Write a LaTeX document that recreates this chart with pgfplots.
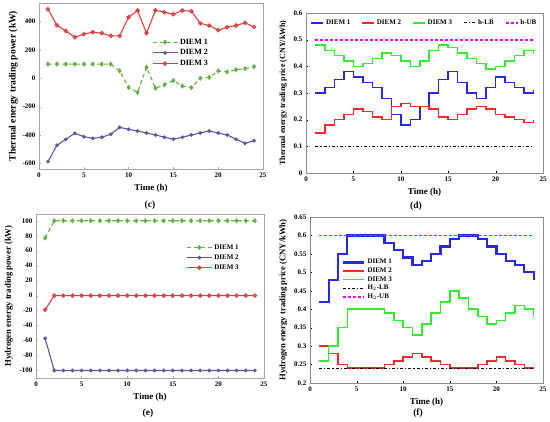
\documentclass[border=0pt]{standalone}
\usepackage{fontspec}
\setmainfont{Liberation Serif}
\usepackage{pgfplots}
\pgfplotsset{compat=1.18}
\definecolor{cgreen}{RGB}{100,175,70}
\definecolor{cpurple}{RGB}{95,85,165}
\definecolor{cred}{RGB}{215,65,65}
\definecolor{mblue}{RGB}{40,40,230}
\definecolor{mred}{RGB}{250,40,40}
\definecolor{mgreen}{RGB}{50,235,50}
\definecolor{mmag}{RGB}{255,0,230}
\pgfplotsset{
  base/.style={scale only axis, anchor=south west, xmin=0, xmax=25, xtick={0,5,...,25},
    axis line style={gray!70}, tick align=inside, xtick pos=left, ytick pos=left,
    major tick length=2pt, tick style={gray!70},
    /pgf/number format/assume math mode=true,
    tick label style={font=\bfseries\fontsize{7}{8}\selectfont},
    label style={font=\bfseries\fontsize{9}{10}\selectfont},
    legend style={draw=none, fill=none, font=\bfseries\fontsize{7}{8}\selectfont},
    legend cell align=left,
  },
  mleg/.style={legend image code/.code={\draw[mark repeat=2,mark phase=2,##1] plot coordinates {(0pt,0pt) (12.5pt,0pt) (25pt,0pt)};}},
  m1/.style={cgreen, line width=1.1pt, dash pattern=on 4pt off 3pt, mark=diamond*, mark size=1.8pt, mark options={solid}},
  m2/.style={cpurple, line width=1.1pt, mark=*, mark size=1.3pt},
  m3/.style={cred, line width=1.1pt, mark=o, mark size=1.7pt},
  ub/.style={draw=mmag, color=mmag, line width=1.7pt, line cap=butt, dash pattern=on 3pt off 2pt},
}
\begin{document}
\begin{tikzpicture}[x=1pt,y=1pt]
\path[use as bounding box] (0,0) rectangle (550,422);
% (c)
\begin{axis}[base, mleg, at={(39pt,253pt)}, width=224pt, height=166pt,
  ymin=-640, ymax=531, ytick={-600,-400,...,400},
  xlabel={Time (h)}, ylabel={Thermal energy trading power (kW)},
  ylabel style={yshift=-2pt, font=\bfseries\fontsize{9.6}{10}\selectfont},
  legend style={at={(0.49,0.81)}, anchor=north west, font=\bfseries\fontsize{8}{9}\selectfont}]
\addplot[m1] coordinates {(1,100)(2,100)(3,100)(4,100)(5,100)(6,100)(7,100)(8,100)(9,52)(10,-64)(11,-100)(12,78)(13,-70)(14,-46)(15,-16)(16,-55)(17,-66)(18,0)(19,6)(20,52)(21,45)(22,61)(23,68)(24,82)};
\addlegendentry{DIEM 1}
\addplot[m2] coordinates {(1,-588)(2,-473)(3,-430)(4,-388)(5,-412)(6,-424)(7,-416)(8,-395)(9,-346)(10,-360)(11,-372)(12,-386)(13,-400)(14,-416)(15,-430)(16,-416)(17,-400)(18,-386)(19,-372)(20,-386)(21,-400)(22,-430)(23,-459)(24,-440)};
\addlegendentry{DIEM 2}
\addplot[m3] coordinates {(1,487)(2,374)(3,334)(4,289)(5,311)(6,325)(7,318)(8,299)(9,299)(10,431)(11,478)(12,318)(13,480)(14,466)(15,452)(16,478)(17,473)(18,388)(19,372)(20,339)(21,360)(22,372)(23,391)(24,362)};
\addlegendentry{DIEM 3}
\end{axis}
% (d)
\begin{axis}[base, clip=false, at={(306pt,249pt)}, width=237pt, height=160pt,
  ymin=0, ymax=0.6, ytick={0,0.1,0.2,0.3,0.4,0.5,0.6},
  axis line style={gray!90}, tick style={black},
  xlabel={Time (h)}, ylabel={Thermal energy trading price (CNY/kWh)},
  ylabel style={font=\bfseries\fontsize{8}{9}\selectfont},
  legend columns=5,
  legend style={at={(0.5,0.985)}, anchor=north, font=\bfseries\fontsize{7}{8}\selectfont,
    /tikz/every even column/.append style={column sep=9pt}},
  legend image code/.code={\draw[#1] (0pt,0pt) -- (12pt,0pt);}]
\addplot[ub, forget plot] coordinates {(1,0.5)(24,0.5)};
\addplot[const plot, mblue, line width=1.5pt] coordinates {(1,0.30)(2,0.32)(3,0.35)(4,0.38)(5,0.36)(6,0.34)(7,0.32)(8,0.28)(9,0.22)(10,0.18)(11,0.20)(12,0.25)(13,0.30)(14,0.35)(15,0.38)(16,0.34)(17,0.30)(18,0.28)(19,0.32)(20,0.36)(21,0.34)(22,0.32)(23,0.30)(24,0.31)};
\addlegendentry{DIEM 1}
\addplot[const plot, mred, line width=1.5pt] coordinates {(1,0.15)(2,0.18)(3,0.20)(4,0.22)(5,0.24)(6,0.23)(7,0.21)(8,0.20)(9,0.25)(10,0.26)(11,0.25)(12,0.25)(13,0.24)(14,0.21)(15,0.20)(16,0.22)(17,0.24)(18,0.25)(19,0.24)(20,0.22)(21,0.21)(22,0.20)(23,0.19)(24,0.20)};
\addlegendentry{DIEM 2}
\addplot[const plot, mgreen, line width=1.5pt] coordinates {(1,0.48)(2,0.46)(3,0.44)(4,0.42)(5,0.40)(6,0.41)(7,0.43)(8,0.45)(9,0.44)(10,0.42)(11,0.40)(12,0.42)(13,0.46)(14,0.48)(15,0.47)(16,0.45)(17,0.43)(18,0.41)(19,0.39)(20,0.40)(21,0.42)(22,0.44)(23,0.46)(24,0.45)};
\addlegendentry{DIEM 3}
\addplot[black, line width=1.1pt, dash dot] coordinates {(1,0.1)(24,0.1)};
\addlegendentry{h-LB}
\addlegendimage{ub}
\addlegendentry{h-UB}
\end{axis}
% (e)
\begin{axis}[base, mleg, at={(36pt,44pt)}, width=228pt, height=164pt,
  ymin=-110, ymax=109, ytick={-100,-80,...,100},
  xlabel={Time (h)}, ylabel={Hydrogen energy trading power (kW)},
  ylabel style={font=\bfseries\fontsize{8.7}{9.5}\selectfont},
  legend style={at={(0.645,0.84)}, anchor=north west, font=\bfseries\fontsize{7}{8}\selectfont}]
\addplot[m1] coordinates {(1,77)(2,100)(3,100)(4,100)(5,100)(6,100)(7,100)(8,100)(9,100)(10,100)(11,100)(12,100)(13,100)(14,100)(15,100)(16,100)(17,100)(18,100)(19,100)(20,100)(21,100)(22,100)(23,100)(24,100)};
\addlegendentry{DIEM 1}
\addplot[m2] coordinates {(1,-57)(2,-100)(3,-100)(4,-100)(5,-100)(6,-100)(7,-100)(8,-100)(9,-100)(10,-100)(11,-100)(12,-100)(13,-100)(14,-100)(15,-100)(16,-100)(17,-100)(18,-100)(19,-100)(20,-100)(21,-100)(22,-100)(23,-100)(24,-100)};
\addlegendentry{DIEM 2}
\addplot[m3] coordinates {(1,-19)(2,0)(3,0)(4,0)(5,0)(6,0)(7,0)(8,0)(9,0)(10,0)(11,0)(12,0)(13,0)(14,0)(15,0)(16,0)(17,0)(18,0)(19,0)(20,0)(21,0)(22,0)(23,0)(24,0)};
\addlegendentry{DIEM 3}
\end{axis}
% (f)
\begin{axis}[base, clip=false, at={(310pt,39pt)}, width=233pt, height=166pt,
  ymin=0.2, ymax=0.65, ytick={0.2,0.25,0.3,0.35,0.4,0.45,0.5,0.55,0.6,0.65},
  yticklabel style={/pgf/number format/fixed, /pgf/number format/precision=2},
  axis line style={gray!90}, tick style={black},
  xlabel={Time (h)}, ylabel={Hydrogen energy trading price (CNY/kWh)},
  ylabel style={font=\bfseries\fontsize{8.6}{9.5}\selectfont},
  legend style={at={(0.125,0.77)}, anchor=north west, font=\bfseries\fontsize{7}{8}\selectfont, row sep=-1.5pt},
  legend image code/.code={\draw[#1] (0pt,0pt) -- (21pt,0pt);}]
\addplot[const plot, mblue, line width=2.2pt] coordinates {(1,0.42)(2,0.48)(3,0.55)(4,0.60)(5,0.60)(6,0.60)(7,0.60)(8,0.58)(9,0.56)(10,0.54)(11,0.52)(12,0.53)(13,0.55)(14,0.57)(15,0.59)(16,0.60)(17,0.60)(18,0.59)(19,0.57)(20,0.55)(21,0.53)(22,0.52)(23,0.50)(24,0.48)};
\addlegendentry{DIEM 1}
\addplot[const plot, mred, line width=1.5pt] coordinates {(1,0.30)(2,0.28)(3,0.25)(4,0.24)(5,0.24)(6,0.24)(7,0.24)(8,0.25)(9,0.26)(10,0.27)(11,0.28)(12,0.27)(13,0.26)(14,0.25)(15,0.24)(16,0.24)(17,0.24)(18,0.25)(19,0.26)(20,0.27)(21,0.26)(22,0.25)(23,0.24)(24,0.24)};
\addlegendentry{DIEM 2}
\addplot[const plot, mgreen, line width=1.5pt] coordinates {(1,0.26)(2,0.30)(3,0.35)(4,0.40)(5,0.40)(6,0.40)(7,0.40)(8,0.39)(9,0.37)(10,0.35)(11,0.33)(12,0.36)(13,0.39)(14,0.42)(15,0.45)(16,0.43)(17,0.40)(18,0.38)(19,0.36)(20,0.37)(21,0.39)(22,0.41)(23,0.40)(24,0.38)};
\addlegendentry{DIEM 3}
\addplot[black, line width=1.1pt, dash dot] coordinates {(1,0.24)(24,0.24)};
\addlegendentry{H$_2$-LB}
\addplot[ub] coordinates {(1,0.6)(24,0.6)};
\addlegendentry{H$_2$-UB}
\end{axis}
\node[font=\bfseries\fontsize{9.5}{10}\selectfont] at (150,217) {(c)};
\node[font=\bfseries\fontsize{9.5}{10}\selectfont] at (416,216) {(d)};
\node[font=\bfseries\fontsize{9.5}{10}\selectfont] at (148,9) {(e)};
\node[font=\bfseries\fontsize{9.5}{10}\selectfont] at (418,9) {(f)};
\end{tikzpicture}
\end{document}
